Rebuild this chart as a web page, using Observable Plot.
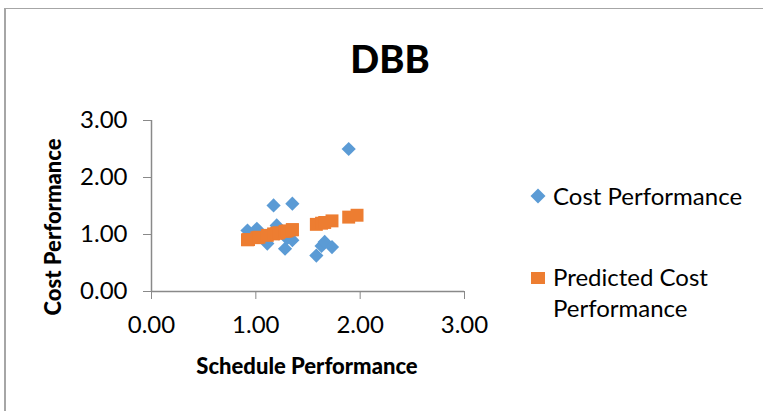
<!DOCTYPE html>
<html>
<head>
<meta charset="utf-8">
<script src="https://cdn.jsdelivr.net/npm/d3@7"></script>
<script src="https://cdn.jsdelivr.net/npm/@observablehq/plot@0.6"></script>
<style>
  html, body { margin: 0; padding: 0; background: #fff; }
  #chart {
    position: relative; width: 763px; height: 411px; overflow: hidden;
    font-family: Lato, "Open Sans", sans-serif; color: #000;
  }
  #frame {
    position: absolute; left: 4px; top: 8px; width: 800px; height: 450px;
    border-left: 2px solid #a6a6a6; border-top: 1px solid #a6a6a6;
  }
  #plot { position: absolute; left: 0; top: 0; }
  .lbl { position: absolute; white-space: nowrap; line-height: 1; }
  .title { font-weight: 900; font-size: 38px; transform: translate(-50%, -50%); }
  .axt { font-weight: 900; font-size: 22px; transform: translate(-50%, -50%); }
  .leg { font-size: 24px; transform: translateY(-50%); }
</style>
</head>
<body>
<div id="chart">
  <div id="frame"></div>
  <div id="plot"></div>
  <div class="lbl title" style="left:390px; top:58px;">DBB</div>
  <div class="lbl axt" style="left:53px; top:227px; transform: translate(-50%, -50%) rotate(-90deg);">Cost Performance</div>
  <div class="lbl axt" style="left:307px; top:366px;">Schedule Performance</div>
  <div id="legend"></div>
</div>
<script>
// Schedule performance (x) of each DBB project
const schedule = [0.92, 0.93, 1.01, 1.03, 1.11, 1.17, 1.20, 1.22, 1.28, 1.30, 1.35, 1.35,
                  1.58, 1.63, 1.66, 1.73, 1.89, 1.97];
// Observed cost performance (null where the point sits under its prediction)
const cost = [1.07, 0.98, 1.10, 1.00, 0.84, 1.51, 1.16, 1.02, 0.75, 0.93, 1.54, 0.90,
              0.63, 0.80, 0.87, 0.78, 2.50, null];
// Cost performance predicted by the regression line
const predicted = [0.907, 0.911, 0.944, 0.952, 0.985, 1.010, 1.022, 1.030, 1.055, 1.063, 1.084, 1.084,
                   1.178, 1.198, 1.211, 1.239, 1.305, 1.338];
const ticks = [0, 1, 2, 3];
const seriesNames = ["Cost Performance", "Predicted Cost Performance"];

const blue = "#5b9bd5", orange = "#ed7d31", axisGray = "#898989";

const observedRows = schedule.map((s, i) => ({s, c: cost[i]})).filter(d => d.c != null);
const predictedRows = schedule.map((s, i) => ({s, c: predicted[i]}));

const plot = Plot.plot({
  width: 763,
  height: 411,
  marginLeft: 151,
  marginRight: 299,
  marginTop: 120,
  marginBottom: 120,
  style: {fontFamily: "Lato, 'Open Sans', sans-serif", fontSize: "24px", background: "transparent"},
  x: {domain: [0, 3]},
  y: {domain: [0, 3]},
  marks: [
    Plot.axisX({ticks, tickSize: 8, tickPadding: 16, stroke: axisGray, tickFormat: d3.format(".2f"), label: null, fontSize: 24}),
    Plot.axisY({ticks, tickSize: 8, tickPadding: 16, stroke: axisGray, tickFormat: d3.format(".2f"), label: null, fontSize: 24}),
    Plot.ruleY([0], {stroke: axisGray, strokeWidth: 1.5}),
    Plot.ruleX([0], {stroke: axisGray, strokeWidth: 1.5}),
    Plot.dot(observedRows, {x: "s", y: "c", symbol: "diamond2", r: 6.4, fill: blue, stroke: "none"}),
    Plot.dot(predictedRows, {x: "s", y: "c", symbol: "square", r: 7.3, fill: orange, stroke: "none"})
  ]
});
document.getElementById("plot").appendChild(plot);

// Legend on the right
const legend = document.getElementById("legend");
legend.innerHTML = `
  <svg style="position:absolute; left:530px; top:188px;" width="16" height="16">
    <path d="M8,0.5 L15.5,8 L8,15.5 L0.5,8 Z" fill="${blue}"/></svg>
  <div class="lbl leg" style="left:553px; top:196px;">${seriesNames[0]}</div>
  <svg style="position:absolute; left:531px; top:272px;" width="14" height="12">
    <rect x="0" y="0" width="14" height="12" fill="${orange}"/></svg>
  <div class="lbl leg" style="left:553px; top:277px;">Predicted Cost</div>
  <div class="lbl leg" style="left:553px; top:308px;">Performance</div>`;
</script>
</body>
</html>
